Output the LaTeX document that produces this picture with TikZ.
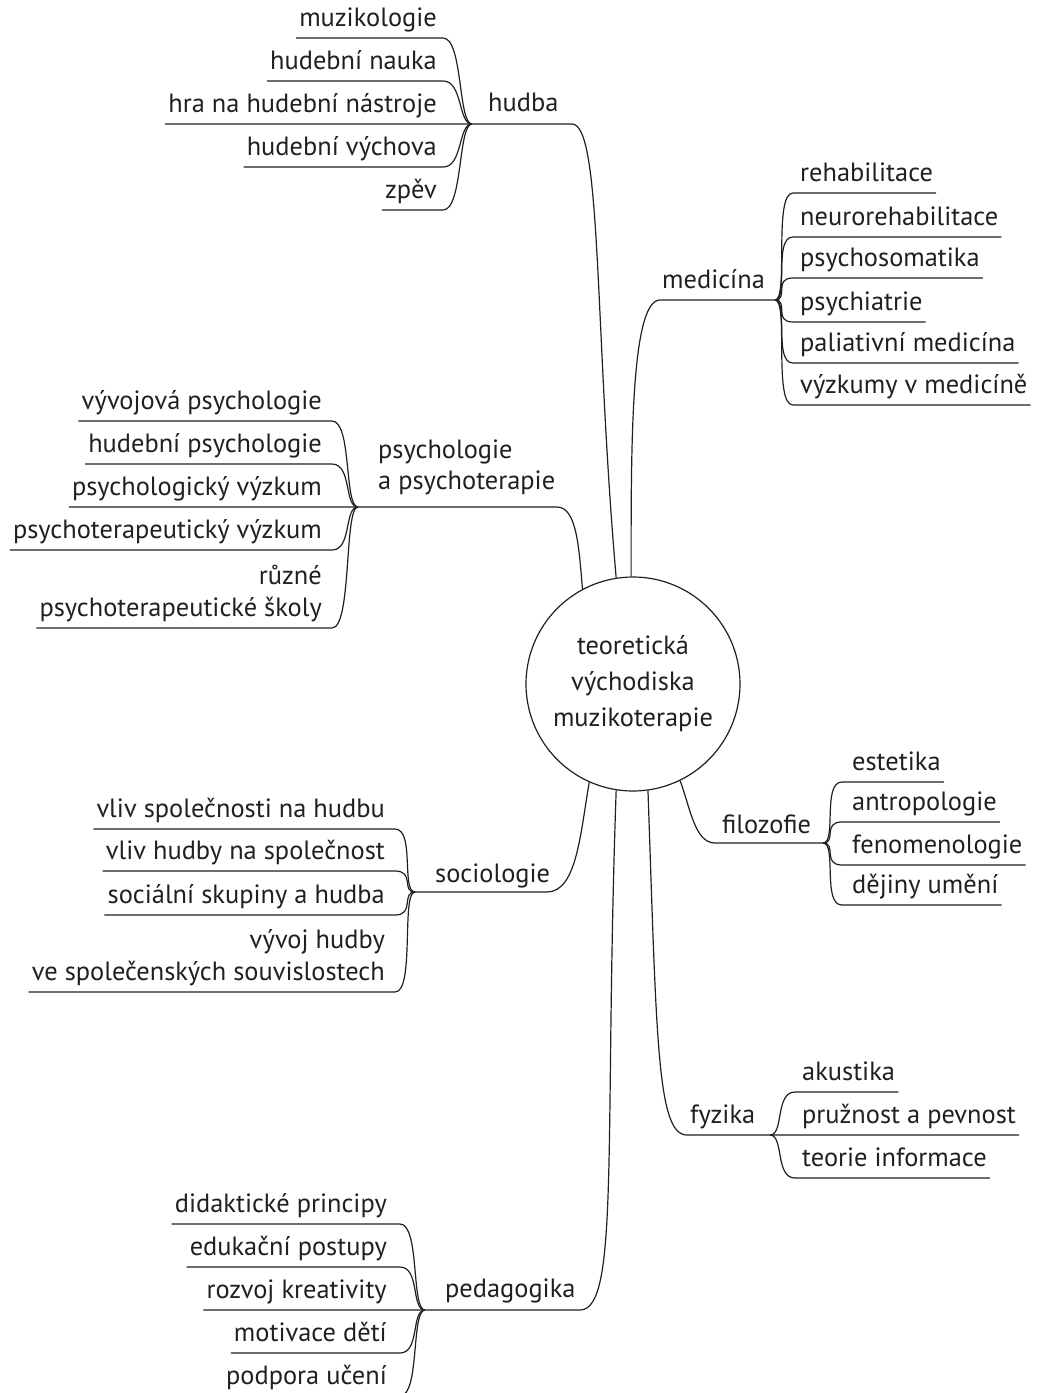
\documentclass[tikz,border=0pt]{standalone}
\usepackage{fontspec}
\setmainfont{PT Sans}
\usetikzlibrary{calc}
\definecolor{ink}{RGB}{35,31,32}
\tikzset{
  lab/.style={inner xsep=3pt, inner ysep=2pt, font=\fontsize{26.4}{32}\selectfont, text=ink, execute at end node=\strut},
  mainlab/.style={inner sep=0pt, font=\fontsize{26.4}{31}\selectfont, text=ink, align=left},
  link/.style={draw=ink, line width=1.2pt},
  kidL/.style={out=0, in=180, out distance=20pt, in distance=14pt},
  kidR/.style={out=0, in=180, out distance=14pt, in distance=20pt},
}
\begin{document}
\begin{tikzpicture}[x=1pt,y=1pt]
\useasboundingbox (0,0) rectangle (1039,-1393);

% centre
\node[circle, draw=ink, line width=1.2pt, minimum size=214pt, inner sep=0pt, align=center,
      font=\fontsize{26.4}{36}\selectfont, text=ink] (C) at (633,-684)
      {teoretická\\východiska\\muzikoterapie};

% ---------- hudba ----------
\coordinate (hJ) at (472,-124);
\coordinate (hE) at (572,-124);
\node[mainlab, anchor=base west] (h) at (488,-111) {hudba};
\foreach \n/\t/\y in {h1/muzikologie/38, h2/hudební nauka/81, h3/hra na hudební nástroje/124,
                      h4/hudební výchova/167, h5/zpěv/210} {
  \node[lab, anchor=south east, align=right] (\n) at (440,-\y) {\t};
}
\foreach \n in {h1,h2,h4,h5} {
  \draw[link] (\n.south west) -- ($(\n.south east)+(3,0)$) to[kidL] (hJ);
}
\draw[link] (C.99) to[out=95, in=0, out distance=250pt, in distance=30pt] (hE) -- (hJ) -- (h3.south west);

% ---------- medicína ----------
\coordinate (mS) at (660,-300);
\coordinate (mJ) at (775,-300);
\node[mainlab, anchor=base west] (m) at (662,-288) {medicína};
\draw[link] (C.91) to[out=90, in=180, out distance=120pt, in distance=30pt] (mS) -- (mJ);
\foreach \n/\t/\y in {m1/rehabilitace/193, m2/neurorehabilitace/237, m3/psychosomatika/278,
                      m4/psychiatrie/322, m5/paliativní medicína/363, m6/výzkumy v medicíně/405} {
  \node[lab, anchor=south west, align=left] (\n) at (797,-\y) {\t};
  \draw[link] (mJ) to[kidR] ($(\n.south west)+(-4,0)$) -- (\n.south east);
}

% ---------- psychologie ----------
\coordinate (pJ) at (358,-507);
\coordinate (pE) at (557,-507);
\node[mainlab, anchor=south west, execute at end node=\strut] (p) at (378,-499) {psychologie\\a psychoterapie};
\foreach \n/\t/\y in {p1/vývojová psychologie/421, p2/hudební psychologie/464,
                      p3/psychologický výzkum/507, p4/psychoterapeutický výzkum/550,
                      p5/{různé\\psychoterapeutické školy}/628} {
  \node[lab, anchor=south east, align=right] (\n) at (325,-\y) {\t};
}
\foreach \n in {p1,p2,p4,p5} {
  \draw[link] (\n.south west) -- ($(\n.south east)+(7,0)$) to[kidL] (pJ);
}
\draw[link] (C.118) to[out=95, in=0, out distance=40pt, in distance=20pt] (pE) -- (pJ) -- (p3.south west);

% ---------- sociologie ----------
\coordinate (sJ) at (415,-892);
\coordinate (sE) at (547,-892);
\node[mainlab, anchor=base west] (s) at (435,-882) {sociologie};
\draw[link] (C.246) to[out=260, in=0, out distance=50pt, in distance=30pt] (sE) -- (sJ);
\foreach \n/\t/\y in {s1/vliv společnosti na hudbu/829, s2/vliv hudby na společnost/871,
                      s3/sociální skupiny a hudba/915,
                      s4/{vývoj hudby\\ve společenských souvislostech}/992} {
  \node[lab, anchor=south east, align=right] (\n) at (388,-\y) {\t};
  \draw[link] (\n.south west) -- ($(\n.south east)+(7,0)$) to[kidL] (sJ);
}

% ---------- filozofie ----------
\coordinate (fS) at (715,-843);
\coordinate (fJ) at (823,-843);
\node[mainlab, anchor=base west] (f) at (722,-833) {filozofie};
\draw[link] (C.296) to[out=290, in=180, out distance=30pt, in distance=20pt] (fS) -- (fJ);
\foreach \n/\t/\y in {f1/estetika/782, f2/antropologie/822, f3/fenomenologie/865, f4/dějiny umění/905} {
  \node[lab, anchor=south west, align=left] (\n) at (849,-\y) {\t};
  \draw[link] (fJ) to[kidR] ($(\n.south west)+(-7,0)$) -- (\n.south east);
}

% ---------- fyzika ----------
\coordinate (yS) at (687,-1135);
\coordinate (yJ) at (770,-1135);
\node[mainlab, anchor=base west] (y) at (690,-1123) {fyzika};
\foreach \n/\t/\y in {y1/akustika/1092, y2/pružnost a pevnost/1135, y3/teorie informace/1178} {
  \node[lab, anchor=south west, align=left] (\n) at (799,-\y) {\t};
}
\foreach \n in {y1,y3} {
  \draw[link] (yJ) to[kidR] ($(\n.south west)+(-4,0)$) -- (\n.south east);
}
\draw[link] (C.278) to[out=272, in=180, out distance=250pt, in distance=30pt] (yS) -- (yJ) -- (y2.south east);

% ---------- pedagogika ----------
\coordinate (dJ) at (425,-1310);
\coordinate (dE) at (580,-1310);
\node[mainlab, anchor=base west] (d) at (445,-1297) {pedagogika};
\foreach \n/\t/\y in {d1/didaktické principy/1224, d2/edukační postupy/1267, d3/rozvoj kreativity/1310,
                      d4/motivace dětí/1353, d5/podpora učení/1396} {
  \node[lab, anchor=south east, align=right] (\n) at (390,-\y) {\t};
}
\foreach \n in {d1,d2,d4,d5} {
  \draw[link] (\n.south west) -- ($(\n.south east)+(10,0)$) to[kidL] (dJ);
}
\draw[link] (C.261) to[out=268, in=0, out distance=350pt, in distance=40pt] (dE) -- (dJ) -- (d3.south west);
\end{tikzpicture}
\end{document}
